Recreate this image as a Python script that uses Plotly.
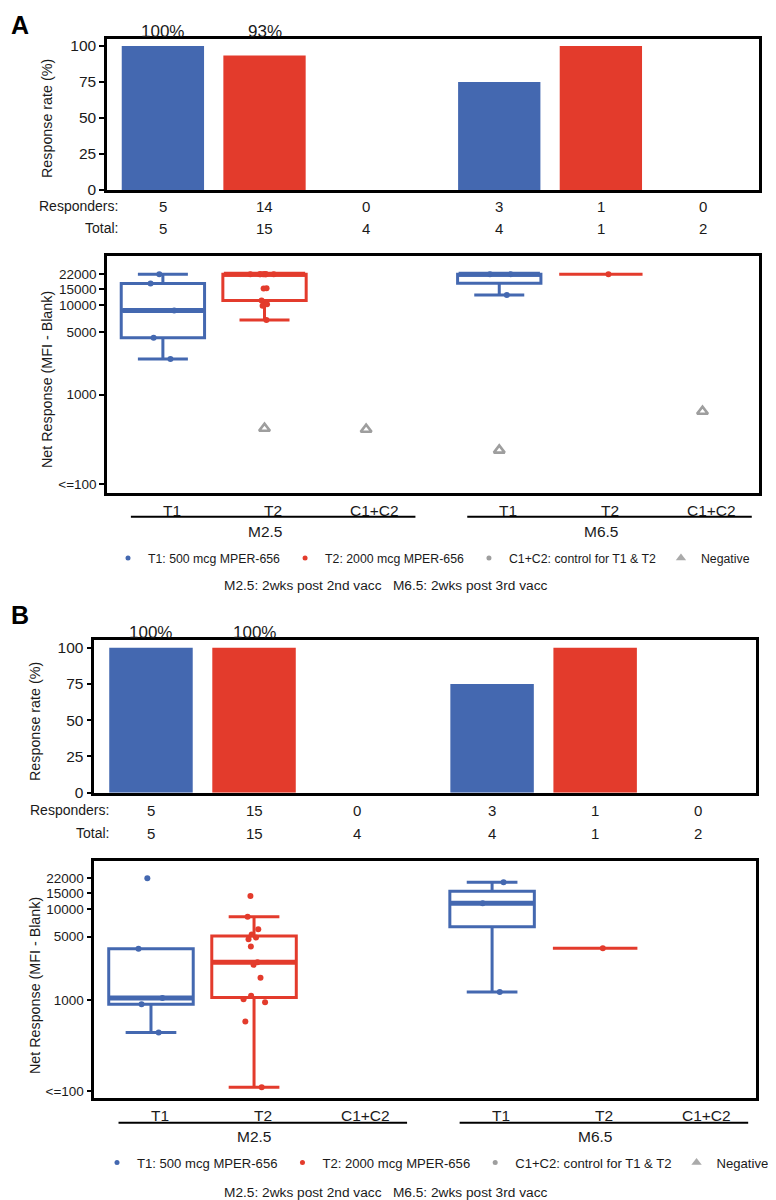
import numpy as np
import plotly.graph_objects as go

# ---------------- data ----------------
groups = ["M2.5", "M6.5"]
arms = ["T1", "T2", "C1+C2"]
legend_labels = ["T1: 500 mcg MPER-656", "T2: 2000 mcg MPER-656",
                 "C1+C2: control for T1 & T2", "Negative"]
caption_left = "M2.5: 2wks post 2nd vacc"
caption_right = "M6.5: 2wks post 3rd vacc"
bar_ticks = [0, 25, 50, 75, 100]
log_tickvals = [100, 1000, 5000, 10000, 15000, 22000]
log_ticktext = ["<=100", "1000", "5000", "10000", "15000", "22000"]

# Panel A  (order: M2.5 T1, T2, C1+C2, M6.5 T1, T2, C1+C2)
a_responders = [5, 14, 0, 3, 1, 0]
a_totals = [5, 15, 4, 4, 1, 2]
a_m25_t1 = [22000, 17400, 8700, 4300, 2500]
a_m25_t2 = [22000, 22000, 22000, 22000, 22000, 22000, 22000, 22000,
            15400, 15300, 11200, 10200, 9800, 6800]
a_m25_c = []
a_m65_t1 = [22000, 22000, 12900]
a_m65_t2 = [22000]
a_m65_c = []
a_neg_m25_t1 = []
a_neg_m25_t2 = [420]
a_neg_m25_c = [410]
a_neg_m65_t1 = [240]
a_neg_m65_t2 = []
a_neg_m65_c = [650]

# Panel B
b_responders = [5, 15, 0, 3, 1, 0]
b_totals = [5, 15, 4, 4, 1, 2]
b_m25_t1 = [22000, 3690, 1060, 900, 440]
b_m25_t2 = [14000, 8300, 6030, 5300, 4900, 4700, 3900, 2620, 2450, 1770,
            1120, 1025, 950, 582, 110]
b_m25_c = []
b_m65_t1 = [19950, 11650, 1234]
b_m65_t2 = [3730]
b_m65_c = []
b_neg_m25_t1 = []
b_neg_m25_t2 = []
b_neg_m25_c = []
b_neg_m65_t1 = []
b_neg_m65_t2 = []
b_neg_m65_c = []

# ---------------- style ----------------
BLUE = "#4468B0"
RED = "#E33B2C"
GRAY = "#9E9E9E"
arm_colors = [BLUE, RED, GRAY]
FONT = "Liberation Sans, Arial, Helvetica, sans-serif"
W, H = 776, 1200
OFF = 8  # page body margin of the browser
GROUP_STEP = 3.31
XR = [0.45, 6.866]
LABEL_OFF = 0.085


def px_x(p):
    return (p - OFF) / W


def px_y(p):
    return 1 - (p - OFF) / H


positions = [g * GROUP_STEP + a + 1 for g in range(len(groups)) for a in range(len(arms))]
colors6 = [arm_colors[a] for g in range(len(groups)) for a in range(len(arms))]

fig = go.Figure()

panels = [
    dict(name="A", xb="x", yb="y", xx="x2", yx="y2", legend="legend",
         resp=a_responders, tot=a_totals,
         pos_data=[a_m25_t1, a_m25_t2, a_m25_c, a_m65_t1, a_m65_t2, a_m65_c],
         neg_data=[a_neg_m25_t1, a_neg_m25_t2, a_neg_m25_c, a_neg_m65_t1, a_neg_m65_t2, a_neg_m65_c],
         xdom=[107, 759], bar_y=[38.8, 190], box_y=[256, 493], logr=[1.903, 4.546],
         letter_y=9, pct_y=7, resp_y=206, tot_y=228, lab_right=120,
         ybar_title=119, ybox_title=380, ytitle_x=47,
         xlab_y=510, uline_y=516.7, glab_y=531.5, legend_y=558, legend_x=108,
         legend_font=12.3, caption_y=585),
    dict(name="B", xb="x3", yb="y3", xx="x4", yx="y4", legend="legend2",
         resp=b_responders, tot=b_totals,
         pos_data=[b_m25_t1, b_m25_t2, b_m25_c, b_m65_t1, b_m65_t2, b_m65_c],
         neg_data=[b_neg_m25_t1, b_neg_m25_t2, b_neg_m25_c, b_neg_m65_t1, b_neg_m65_t2, b_neg_m65_c],
         xdom=[94.3, 755.5], bar_y=[640.4, 792.7], box_y=[860.7, 1098], logr=[1.923, 4.536],
         letter_y=599, pct_y=8, resp_y=810, tot_y=833, lab_right=111,
         ybar_title=722, ybox_title=986, ytitle_x=35,
         xlab_y=1115, uline_y=1122.7, glab_y=1136.7, legend_y=1163, legend_x=97,
         legend_font=13.1, caption_y=1192),
]

annotations = []
shapes = []
layout_axes = {}

for P in panels:
    rates = [100.0 * r / t for r, t in zip(P["resp"], P["tot"])]
    fig.add_trace(go.Bar(x=positions, y=rates, width=0.81, marker=dict(color=colors6, line=dict(width=0)),
                         xaxis=P["xb"], yaxis=P["yb"], showlegend=False, hoverinfo="skip"))

    # boxes with points
    for i, data in enumerate(P["pos_data"]):
        if len(data) == 0:
            continue
        col = colors6[i]
        fig.add_trace(go.Box(
            x=[positions[i]] * len(data), y=data, width=0.82,
            boxpoints="all", jitter=0.35, pointpos=0, quartilemethod="inclusive",
            whiskerwidth=0.6, fillcolor="rgba(255,255,255,0)",
            line=dict(color=col, width=3),
            marker=dict(color=col, size=6),
            xaxis=P["xx"], yaxis=P["yx"], showlegend=False, hoverinfo="skip"))
        if len(data) > 1:
            med = float(np.median(data))
            fig.add_trace(go.Scatter(
                x=[positions[i] - 0.40, positions[i] + 0.40], y=[med, med], mode="lines",
                line=dict(color=col, width=5), xaxis=P["xx"], yaxis=P["yx"],
                showlegend=False, hoverinfo="skip"))
    # negatives
    for i, data in enumerate(P["neg_data"]):
        if len(data) == 0:
            continue
        fig.add_trace(go.Scatter(
            x=[positions[i]] * len(data), y=data, mode="markers",
            marker=dict(symbol="triangle-up-open", size=9.5, color=GRAY, line=dict(width=2.6, color=GRAY)),
            xaxis=P["xx"], yaxis=P["yx"], showlegend=False, hoverinfo="skip"))

    # legend entries
    for k, lab in enumerate(legend_labels):
        if k < 3:
            mk = dict(symbol="circle", size=5, color=arm_colors[k])
        else:
            mk = dict(symbol="triangle-up", size=9, color="#AAAAAA")
        fig.add_trace(go.Scatter(x=[None], y=[None], mode="markers", marker=mk, name=lab,
                                 legend=P["legend"], xaxis=P["xx"], yaxis=P["yx"],
                                 showlegend=True, hoverinfo="skip"))

    # axes
    xs = P["xb"].replace("x", "xaxis")
    xs2 = P["xx"].replace("x", "xaxis")
    ys = P["yb"].replace("y", "yaxis")
    ys2 = P["yx"].replace("y", "yaxis")
    xdom = [px_x(P["xdom"][0]), px_x(P["xdom"][1])]
    frame = dict(showline=True, linewidth=2.5, linecolor="black", mirror=True,
                 showgrid=False, zeroline=False)
    layout_axes[xs] = dict(domain=xdom, range=XR, showticklabels=False, ticks="",
                           anchor=P["yb"], **frame)
    layout_axes[xs2] = dict(domain=xdom, range=XR, showticklabels=False, ticks="",
                            anchor=P["yx"], **frame)
    layout_axes[ys] = dict(domain=[px_y(P["bar_y"][1]), px_y(P["bar_y"][0])], range=[0, 105],
                           tickvals=bar_ticks, ticks="outside", ticklen=5, tickwidth=1.5,
                           tickcolor="black", tickfont=dict(size=15.5, color="#1a1a1a", family=FONT),
                           anchor=P["xb"], **frame)
    layout_axes[ys2] = dict(domain=[px_y(P["box_y"][1]), px_y(P["box_y"][0])], type="log",
                            range=P["logr"], tickvals=log_tickvals, ticktext=log_ticktext,
                            ticks="outside", ticklen=5, tickwidth=1.5, tickcolor="black",
                            tickfont=dict(size=13.5, color="#1a1a1a", family=FONT),
                            anchor=P["xx"], **frame)

    # panel letter
    annotations.append(dict(text="<b>%s</b>" % P["name"], x=px_x(9), y=px_y(P["letter_y"]),
                            xref="paper", yref="paper", xanchor="left", yanchor="top",
                            showarrow=False, font=dict(size=25, color="black", family=FONT)))
    # percent labels above the M2.5 T1/T2 bars
    for i in range(2):
        annotations.append(dict(text="%d%%" % round(rates[i]), x=positions[i], y=105,
                                xref=P["xb"], yref=P["yb"], yanchor="middle", yshift=P["pct_y"],
                                showarrow=False, font=dict(size=17, color="#1a1a1a", family=FONT)))
    # responders / total rows
    for lab, vals, yy in [("Responders:", P["resp"], P["resp_y"]), ("Total:", P["tot"], P["tot_y"])]:
        annotations.append(dict(text=lab, x=px_x(P["lab_right"]), y=px_y(yy), xref="paper", yref="paper",
                                xanchor="right", yanchor="middle", showarrow=False,
                                font=dict(size=14, color="#1a1a1a", family=FONT)))
        for i, v in enumerate(vals):
            annotations.append(dict(text=str(v), x=positions[i], y=px_y(yy), xref=P["xb"], yref="paper",
                                    xanchor="center", yanchor="middle", showarrow=False,
                                    font=dict(size=15, color="#1a1a1a", family=FONT)))
    # y titles
    annotations.append(dict(text="Response rate (%)", x=px_x(P["ytitle_x"]), y=px_y(P["ybar_title"]),
                            xref="paper", yref="paper", textangle=-90, showarrow=False,
                            xanchor="center", yanchor="middle",
                            font=dict(size=14.3, color="#1a1a1a", family=FONT)))
    annotations.append(dict(text="Net Response (MFI - Blank)", x=px_x(P["ytitle_x"]), y=px_y(P["ybox_title"]),
                            xref="paper", yref="paper", textangle=-90, showarrow=False,
                            xanchor="center", yanchor="middle",
                            font=dict(size=14.3, color="#1a1a1a", family=FONT)))
    # x category labels, group underline and group label
    for g, gname in enumerate(groups):
        for a, aname in enumerate(arms):
            p = positions[g * len(arms) + a]
            annotations.append(dict(text=aname, x=p + LABEL_OFF, y=px_y(P["xlab_y"]), xref=P["xx"],
                                    yref="paper", xanchor="center", yanchor="middle", showarrow=False,
                                    font=dict(size=15.5, color="#1a1a1a", family=FONT)))
        gc = positions[g * len(arms) + 1]
        shapes.append(dict(type="line", xref=P["xx"], yref="paper",
                           x0=gc + LABEL_OFF - 1.4, x1=gc + LABEL_OFF + 1.4,
                           y0=px_y(P["uline_y"]), y1=px_y(P["uline_y"]),
                           line=dict(color="black", width=2)))
        annotations.append(dict(text=gname, x=gc, y=px_y(P["glab_y"]), xref=P["xx"], yref="paper",
                                xanchor="center", yanchor="middle", showarrow=False,
                                font=dict(size=15.5, color="#1a1a1a", family=FONT)))
    # caption
    annotations.append(dict(text=caption_left + "\u00a0\u00a0\u00a0" + caption_right,
                            x=px_x(385), y=px_y(P["caption_y"]), xref="paper", yref="paper",
                            xanchor="center", yanchor="middle", showarrow=False,
                            font=dict(size=13.7, color="#1a1a1a", family=FONT)))
    layout_axes[P["legend"]] = dict(orientation="h", x=px_x(P["legend_x"]), y=px_y(P["legend_y"]),
                                    xanchor="left", yanchor="middle", bgcolor="rgba(0,0,0,0)",
                                    font=dict(size=P["legend_font"], color="#1a1a1a", family=FONT),
                                    itemsizing="trace", tracegroupgap=0)

fig.update_layout(
    width=W, height=H, margin=dict(l=0, r=0, t=0, b=0, autoexpand=False),
    paper_bgcolor="white", plot_bgcolor="white",
    font=dict(family=FONT, color="#1a1a1a"),
    barmode="overlay", boxmode="overlay",
    annotations=annotations, shapes=shapes,
    **layout_axes,
)

fig.write_html("out.html")
